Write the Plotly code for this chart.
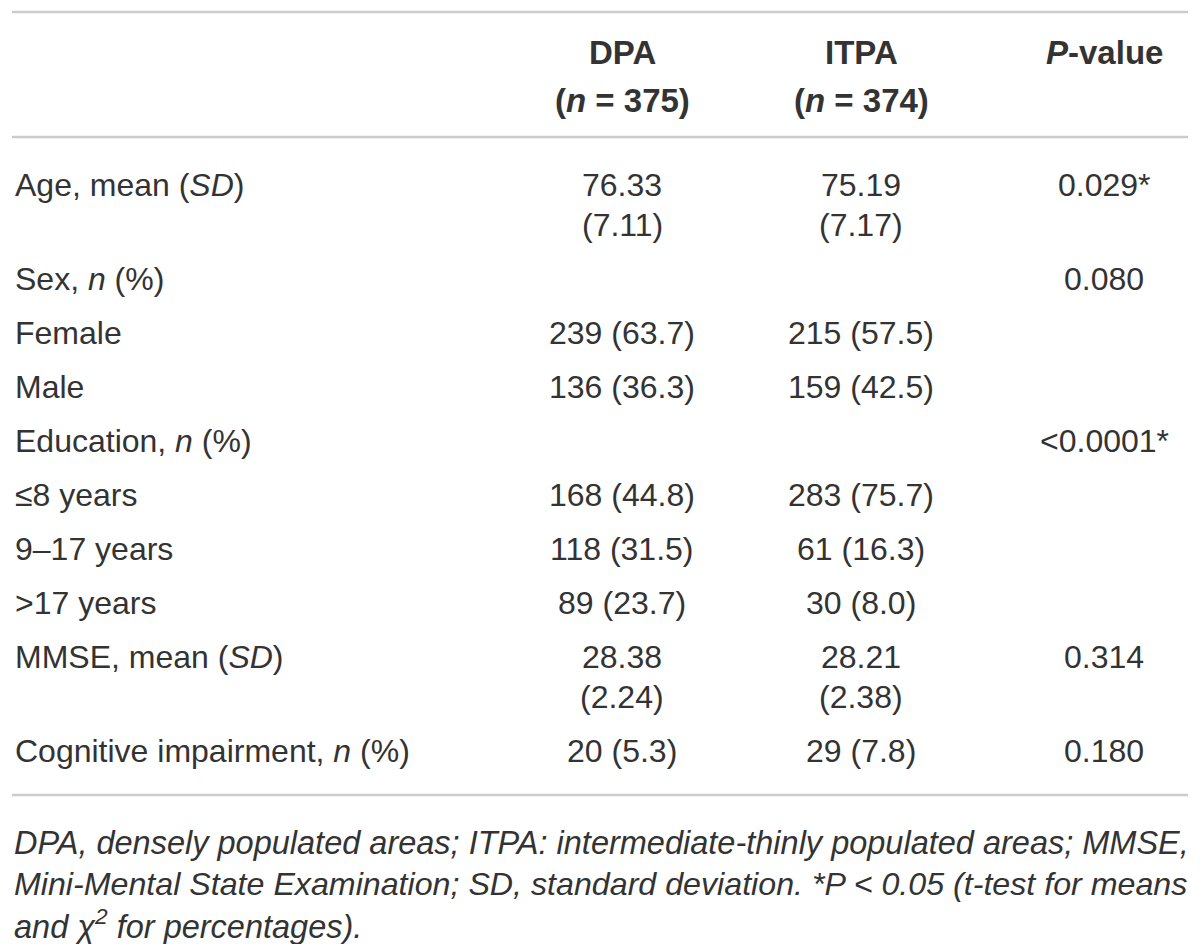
import plotly.graph_objects as go

# Contenido de la tabla
col_headers = ["<b>DPA</b><br><b>(<i>n</i> = 375)</b>",
               "<b>ITPA</b><br><b>(<i>n</i> = 374)</b>",
               "<b><i>P</i>-value</b>"]

row_labels = ["Age, mean (<i>SD</i>)", "Sex, <i>n</i> (%)", "Female", "Male",
              "Education, <i>n</i> (%)", "≤8 years", "9–17 years", "&gt;17 years",
              "MMSE, mean (<i>SD</i>)", "Cognitive impairment, <i>n</i> (%)"]

dpa = ["76.33<br>(7.11)", "", "239 (63.7)", "136 (36.3)", "", "168 (44.8)",
       "118 (31.5)", "89 (23.7)", "28.38<br>(2.24)", "20 (5.3)"]

itpa = ["75.19<br>(7.17)", "", "215 (57.5)", "159 (42.5)", "", "283 (75.7)",
        "61 (16.3)", "30 (8.0)", "28.21<br>(2.38)", "29 (7.8)"]

p_values = ["0.029*", "0.080", "", "", "&lt;0.0001*", "", "", "", "0.314", "0.180"]

footnote = ["<i>DPA, densely populated areas; ITPA: intermediate-thinly populated areas; MMSE,</i>",
            "<i>Mini-Mental State Examination; SD, standard deviation. *P &lt; 0.05 (t-test for means</i>",
            "<i>and χ<sup>2</sup> for percentages).</i>"]

# Estilo / geometría (coordenadas en píxeles de la página; el body tiene 8px de margen)
PAGE_W, PAGE_H, BODY = 1200, 944, 8
FONT = "Liberation Sans"
TXT = "#333333"
SIZE = 32
HEAD_SIZE = 33
foot_sizes = [32.5, 32.2, 32.5]
col_x = [622, 861, 1104]
LINE_H = 40
ROW_STEP = 54
left, right = 12, 1188

fig = go.Figure()


def add_text(x, y, txt, anchor="center", size=SIZE):
    fig.add_annotation(x=x, y=y, xref="x", yref="y", text=txt, showarrow=False,
                       xanchor=anchor, yanchor="middle",
                       font=dict(family=FONT, size=size, color=TXT))


# Encabezado
for cx, h in zip(col_x, col_headers):
    for i, part in enumerate(h.split("<br>")):
        add_text(cx, 52 + i * 48, part, size=HEAD_SIZE)

# Filas
y = 185
for lab, a, b, p in zip(row_labels, dpa, itpa, p_values):
    add_text(13, y, lab, anchor="left")
    nlines = 1
    for cx, cell in zip(col_x, [a, b, p]):
        parts = cell.split("<br>") if cell else []
        for i, part in enumerate(parts):
            add_text(cx, y + i * LINE_H, part)
        nlines = max(nlines, len(parts))
    y += ROW_STEP + (nlines - 1) * LINE_H

# Nota al pie
for i, (line, fs) in enumerate(zip(footnote, foot_sizes)):
    add_text(12, 843 + i * 40.5, line, anchor="left", size=fs)

# Líneas horizontales
for ly in [12, 137, 795]:
    fig.add_shape(type="line", x0=left, x1=right, y0=ly, y1=ly, xref="x", yref="y",
                  line=dict(color="#cccccc", width=2.5))

fig.update_xaxes(range=[BODY, PAGE_W], visible=False, fixedrange=True)
fig.update_yaxes(range=[PAGE_H, BODY], visible=False, fixedrange=True)
fig.update_layout(width=PAGE_W - BODY, height=PAGE_H - BODY,
                  margin=dict(l=0, r=0, t=0, b=0),
                  plot_bgcolor="white", paper_bgcolor="white", showlegend=False)

fig.write_html("out.html")
